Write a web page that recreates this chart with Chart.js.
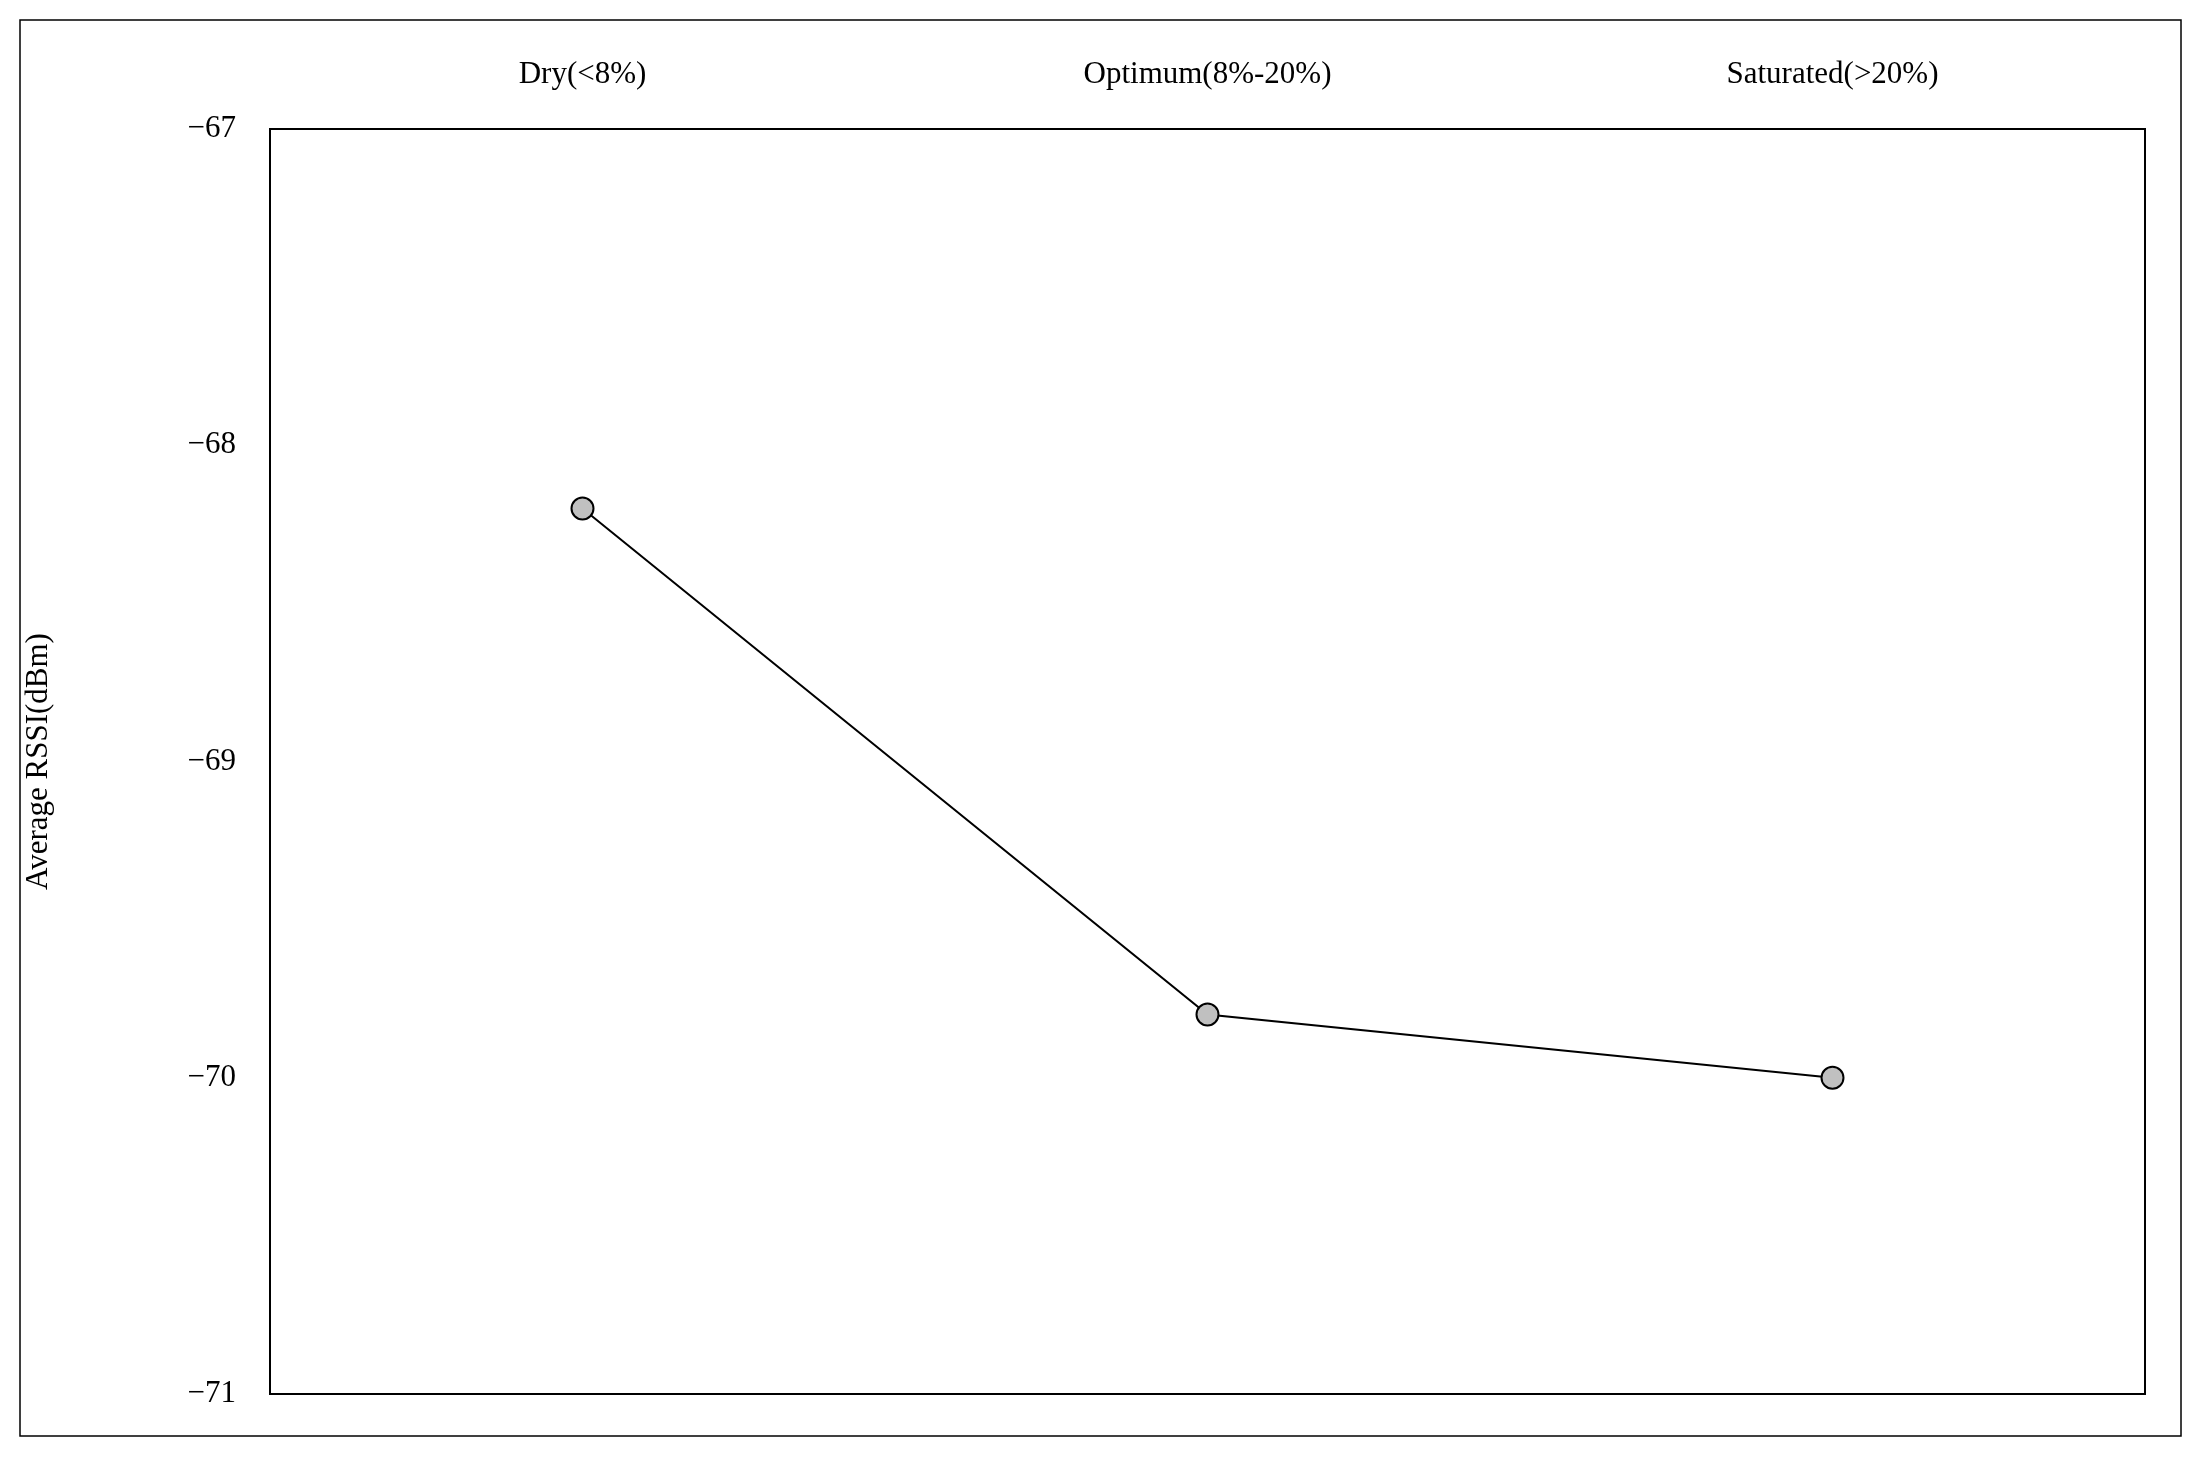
<!DOCTYPE html>
<html><head><meta charset="utf-8">
<script src="https://cdn.jsdelivr.net/npm/chart.js@4"></script>
<style>html,body{margin:0;padding:0;background:#fff}#c{display:block}</style>
</head><body>
<canvas id="c" width="2204" height="1457"></canvas>
<script>
const categories = ["Dry(<8%)", "Optimum(8%-20%)", "Saturated(>20%)"];
const rssiValues = [-68.2, -69.8, -70.0];
const yTicks = [-71, -70, -69, -68, -67];

const frame = {
  id: 'frame',
  afterDraw(chart) {
    const {ctx, chartArea: a} = chart;
    ctx.save();
    ctx.strokeStyle = '#000';
    ctx.lineWidth = 2;
    ctx.strokeRect(a.left, a.top, a.right - a.left, a.bottom - a.top);
    ctx.lineWidth = 1.5;
    ctx.strokeRect(20, 20, 2161, 1416);
    ctx.restore();
  }
};
Chart.defaults.font.family = "'Liberation Serif', 'DejaVu Serif', serif";
Chart.defaults.color = '#000';
new Chart(document.getElementById('c'), {
  type: 'line',
  data: { labels: categories, datasets: [{
    data: rssiValues, borderColor: '#000', borderWidth: 2,
    pointRadius: 11, pointBackgroundColor: '#c0c0c0', pointBorderColor: '#000', pointBorderWidth: 2
  }]},
  options: {
    responsive: false, animation: false,
    layout: { padding: { left: 20, top: 20, right: 59, bottom: 63 } },
    plugins: { legend: { display: false }, tooltip: { enabled: false } },
    scales: {
      x: { position: 'top', offset: true, grid: { display: false, drawTicks: false }, border: { display: false },
           ticks: { font: { size: 31 }, padding: 36 },
           afterFit(s) { s.height = 109; } },
      y: { min: -71, max: -67, grid: { display: false, drawTicks: false }, border: { display: false },
           afterBuildTicks(s) { s.ticks = yTicks.map(v => ({ value: v })); },
           ticks: { font: { size: 31 }, padding: 34, callback: v => '\u2212' + Math.abs(v) },
           title: { display: true, text: 'Average RSSI(dBm)', font: { size: 31 }, padding: 0 },
           afterFit(s) { s.width = 250; } }
    }
  },
  plugins: [frame]
});
</script>
</body></html>
